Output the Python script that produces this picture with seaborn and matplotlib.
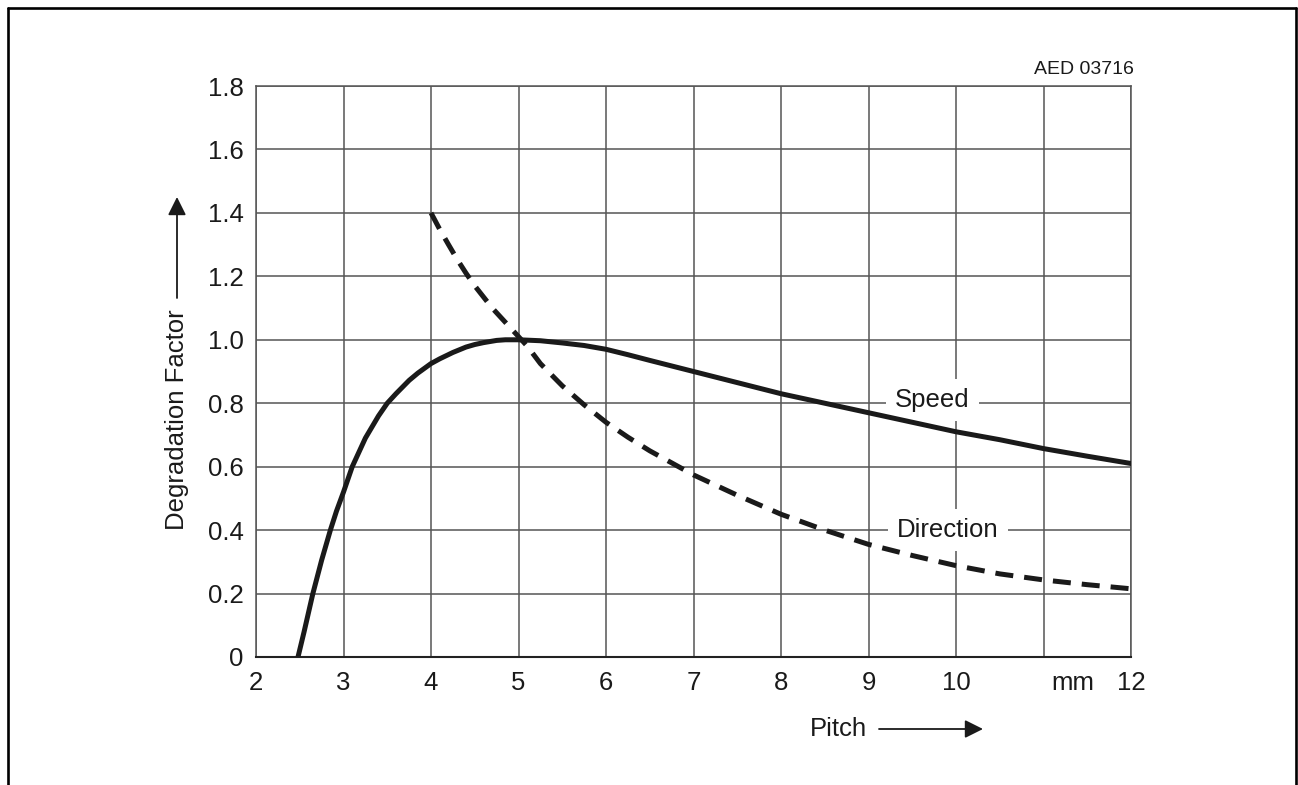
import numpy as np
import matplotlib.pyplot as plt
import matplotlib.transforms as mtransforms
import seaborn as sns

# Curve values
speed_x = [2.48, 2.55, 2.65, 2.75, 2.85, 2.92, 3.0, 3.1, 3.25, 3.4, 3.5, 3.6, 3.75, 3.85,
           4.0, 4.1, 4.25, 4.4, 4.5, 4.6, 4.75, 4.85, 5.0, 5.25, 5.5, 5.75, 6.0, 6.25,
           6.5, 7.0, 7.5, 8.0, 8.5, 9.0, 9.5, 10.0, 10.5, 11.0, 11.5, 12.0]
speed_y = [0.0, 0.08, 0.2, 0.305, 0.4, 0.46, 0.52, 0.6, 0.69, 0.76, 0.8, 0.83, 0.872, 0.895,
           0.925, 0.94, 0.96, 0.977, 0.985, 0.991, 0.998, 1.0, 1.0, 0.997, 0.99, 0.982, 0.97, 0.953,
           0.935, 0.9, 0.865, 0.83, 0.8, 0.77, 0.74, 0.71, 0.685, 0.657, 0.633, 0.61]

direction_x = [4.0, 4.1, 4.2, 4.3, 4.4, 4.5, 4.6, 4.7, 4.8, 4.9, 5.0, 5.1, 5.25, 5.5, 5.75,
               6.0, 6.25, 6.5, 7.0, 7.5, 8.0, 8.5, 9.0, 9.5, 10.0, 10.5, 11.0, 11.5, 12.0]
direction_y = [1.4, 1.348, 1.3, 1.253, 1.21, 1.17, 1.135, 1.1, 1.07, 1.04, 1.01, 0.98, 0.925,
               0.855, 0.795, 0.74, 0.693, 0.65, 0.574, 0.51, 0.45, 0.4, 0.355, 0.32, 0.288,
               0.262, 0.243, 0.228, 0.215]

x_ticks = [2, 3, 4, 5, 6, 7, 8, 9, 10, 11, 12]
x_labels = ["2", "3", "4", "5", "6", "7", "8", "9", "10", "", "12"]
y_ticks = [0, 0.2, 0.4, 0.6, 0.8, 1.0, 1.2, 1.4, 1.6, 1.8]
y_labels = ["0", "0.2", "0.4", "0.6", "0.8", "1.0", "1.2", "1.4", "1.6", "1.8"]

sns.set_theme(style="white")
plt.rcParams["font.family"] = ["Liberation Sans", "DejaVu Sans"]

W, H = 1298, 785
fig = plt.figure(figsize=(W / 100, H / 100), dpi=100)
ax = fig.add_axes([256 / W, 1 - 657 / H, (1131 - 256) / W, (657 - 86) / H])

ink = "#1a1a1a"
grid_c = "#555555"
fs = 18.5
xpad = 10

sns.lineplot(x=speed_x, y=speed_y, ax=ax, color=ink, linewidth=3.6, zorder=3)
sns.lineplot(x=direction_x, y=direction_y, ax=ax, color=ink, linewidth=3.6,
             linestyle=(0, (3.6, 2.2)), zorder=3)

ax.set_xlim(2, 12)
ax.set_ylim(0, 1.8)
ax.set_xticks(x_ticks)
ax.set_xticklabels(x_labels)
ax.set_yticks(y_ticks)
ax.set_yticklabels(y_labels)
ax.tick_params(length=0, labelsize=fs, colors="#1a1a1a")
ax.tick_params(axis="x", pad=xpad)
ax.tick_params(axis="y", pad=9)
ax.grid(True, color=grid_c, linewidth=1.1)
ax.set_axisbelow(True)
for s in ["top", "right", "left"]:
    ax.spines[s].set_color(grid_c)
    ax.spines[s].set_linewidth(1.1)
ax.spines["bottom"].set_color("#222222")
ax.spines["bottom"].set_linewidth(1.5)
ax.set_xlabel("")
ax.set_ylabel("")

# curve labels sitting on the grid with white backing
box = dict(boxstyle="square,pad=0.35", facecolor="white", edgecolor="none")
ax.text(9.73, 0.81, "Speed", fontsize=fs, ha="center", va="center", color=ink, bbox=box, zorder=1)
ax.text(9.91, 0.4, "Direction", fontsize=fs, ha="center", va="center", color=ink, bbox=box, zorder=1)

# unit label in place of the 11 tick, placed like a tick label
mm_tr = ax.get_xaxis_transform() + mtransforms.ScaledTranslation(0, -xpad / 72, fig.dpi_scale_trans)
ax.text(11.34, 0, "mm", transform=mm_tr, fontsize=fs, ha="center", va="top", color=ink)

# drawing number
fig.text(1134 / W, 1 - 74 / H, "AED 03716", fontsize=14, ha="right", va="baseline", color=ink)

# axis titles with arrows
fig.text(177 / W, 1 - 420 / H, "Degradation Factor", fontsize=fs, rotation=90,
         ha="center", va="center", color=ink)
fig.text(838 / W, 1 - 729 / H, "Pitch", fontsize=fs, ha="center", va="center", color=ink)
arrow = dict(arrowstyle="-|>,head_length=1.1,head_width=0.55", color=ink, lw=1.3,
             shrinkA=0, shrinkB=0, mutation_scale=10)
fig.add_artist(plt.Annotation("", xy=(177 / W, 1 - 197 / H), xytext=(177 / W, 1 - 298 / H),
                              xycoords="figure fraction", textcoords="figure fraction",
                              arrowprops=arrow))
fig.add_artist(plt.Annotation("", xy=(983 / W, 1 - 729 / H), xytext=(879 / W, 1 - 729 / H),
                              xycoords="figure fraction", textcoords="figure fraction",
                              arrowprops=arrow))

# outer frame (open at the bottom)
fr = dict(color="black", linewidth=1.9, transform=fig.transFigure)
fig.add_artist(plt.Line2D([7.5 / W, 7.5 / W], [0, 1 - 7.5 / H], **fr))
fig.add_artist(plt.Line2D([7.5 / W, 1296 / W], [1 - 7.5 / H, 1 - 7.5 / H], **fr))
fig.add_artist(plt.Line2D([1296 / W, 1296 / W], [0, 1 - 7.5 / H], **fr))

fig.savefig("out.png", dpi=100)
